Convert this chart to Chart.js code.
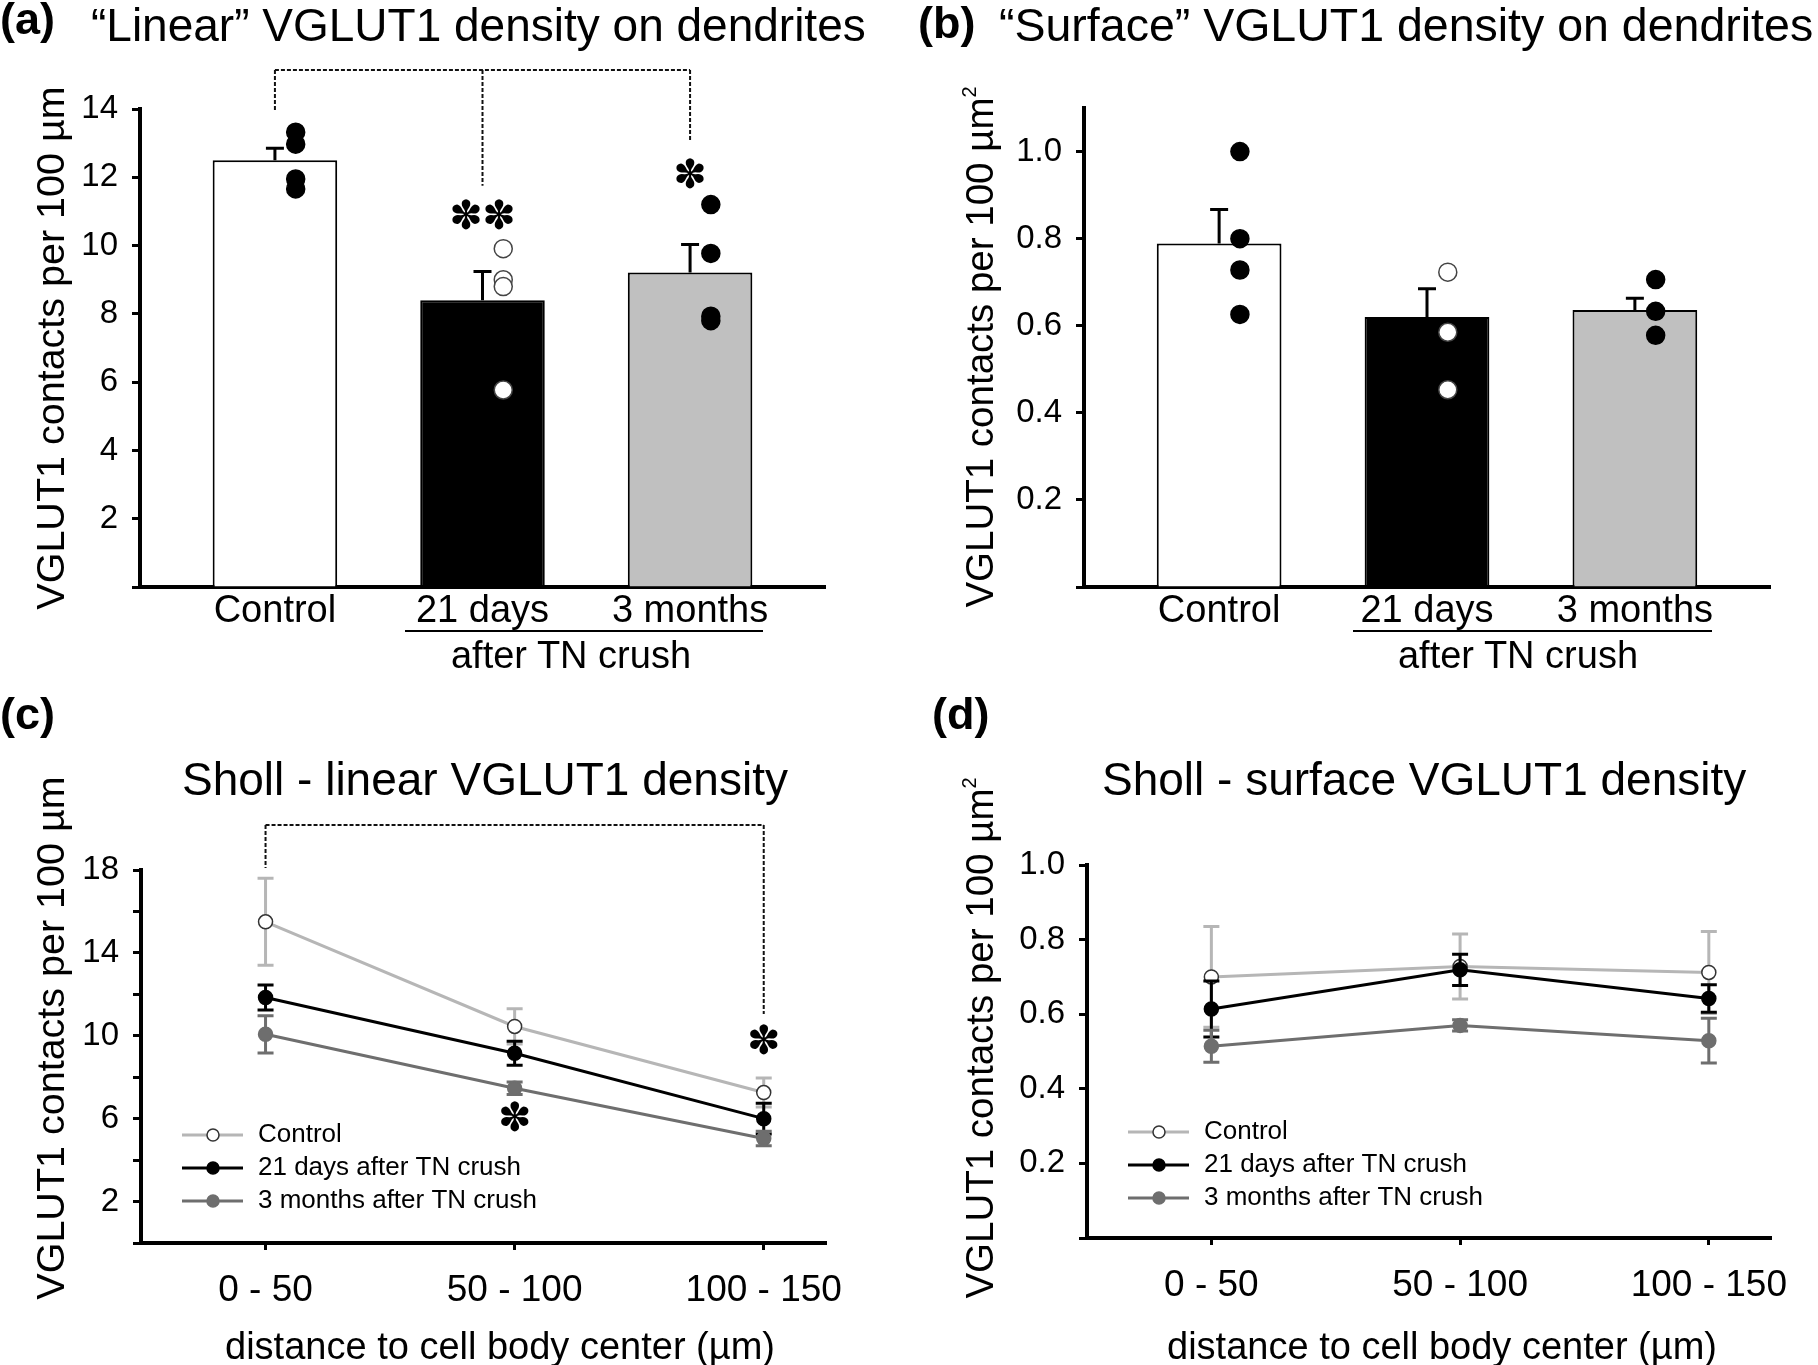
<!DOCTYPE html>
<html>
<head>
<meta charset="utf-8">
<title>VGLUT1 density</title>
<script src="https://cdn.jsdelivr.net/npm/chart.js@4.4.1/dist/chart.umd.min.js"></script>
<style>
  body { margin: 0; background: #fff; }
  #fig { position: relative; width: 1818px; height: 1365px; overflow: hidden; background: #fff; }
  canvas { position: absolute; }
  .t { position: absolute; font-family: 'Liberation Sans', Arial, sans-serif; white-space: nowrap; line-height: 1; color: #000; }
  .lbl { font-weight: bold; font-size: 45px; }
  .ttl { font-size: 46px; }
  .ax { font-size: 38px; }
  .yt { font-size: 39.5px; transform: translate(-50%, -50%) rotate(-90deg); }
  .yt2 { font-size: 38.5px; }
  .xt { transform: translateX(-50%); }
  .sq { font-size: 20px; position: relative; top: -17px; }
  .ul { position: absolute; height: 2px; background: #000; }
</style>
</head>
<body>
<div id="fig">
  <canvas id="cA" width="909" height="682" style="left:0;top:0"></canvas>
  <canvas id="cB" width="909" height="682" style="left:909px;top:0"></canvas>
  <canvas id="cC" width="909" height="683" style="left:0;top:682px"></canvas>
  <canvas id="cD" width="909" height="683" style="left:909px;top:682px"></canvas>

  <div class="t lbl" style="left:0;top:-4px">(a)</div>
  <div class="t ttl" style="left:91px;top:2px">“Linear” VGLUT1 density on dendrites</div>
  <div class="t lbl" style="left:918px;top:0">(b)</div>
  <div class="t ttl" style="left:999px;top:2px;font-size:46.5px">“Surface” VGLUT1 density on dendrites</div>
  <div class="t lbl" style="left:0;top:691px">(c)</div>
  <div class="t ttl" style="left:182px;top:756px">Sholl - linear VGLUT1 density</div>
  <div class="t lbl" style="left:932px;top:691px">(d)</div>
  <div class="t ttl" style="left:1102px;top:756px">Sholl - surface VGLUT1 density</div>

  <div class="t ax yt" style="left:51px;top:348px">VGLUT1 contacts per 100 µm</div>
  <div class="t ax yt yt2" style="left:980px;top:347px">VGLUT1 contacts per 100 µm<span class="sq">2</span></div>
  <div class="t ax yt" style="left:51px;top:1038px">VGLUT1 contacts per 100 µm</div>
  <div class="t ax yt yt2" style="left:980px;top:1038px">VGLUT1 contacts per 100 µm<span class="sq">2</span></div>

  <div class="ul" style="left:405px;top:630px;width:358px"></div>
  <div class="t ax xt" style="left:571px;top:636px">after TN crush</div>
  <div class="ul" style="left:1353px;top:630px;width:359px"></div>
  <div class="t ax xt" style="left:1518px;top:636px">after TN crush</div>

  <div class="t ax xt" style="left:500px;top:1327px">distance to cell body center (µm)</div>
  <div class="t ax xt" style="left:1442px;top:1327px">distance to cell body center (µm)</div>
</div>

<script>
// ---- data ----
const barCats = ['Control', '21 days', '3 months'];
const seriesNames = ['Control', '21 days after TN crush', '3 months after TN crush'];

const linearMean = [12.5, 8.4, 9.21];
const linearSem = [0.35, 0.84, 0.82];
const linearCtrlDots = [13.32, 12.97, 11.95, 11.66];
const linear21dDots = [9.91, 9.0, 8.8, 5.77];
const linear3mDots = [11.2, 9.77, 7.93, 7.8];
const linearYTicks = [0, 2, 4, 6, 8, 10, 12, 14];

const surfaceMean = [0.789, 0.62, 0.636];
const surfaceSem = [0.078, 0.065, 0.027];
const surfaceCtrlDots = [1.0, 0.8, 0.728, 0.626];
const surface21dDots = [0.723, 0.585, 0.453];
const surface3mDots = [0.706, 0.633, 0.578];
const surfaceYTicks = [0, 0.2, 0.4, 0.6, 0.8, 1.0];

const shollCats = ['0 - 50', '50 - 100', '100 - 150'];
const shollLinCtrl = [15.5, 10.45, 7.26];
const shollLinCtrlSem = [2.1, 0.85, 0.7];
const shollLin21d = [11.85, 9.16, 6.0];
const shollLin21dSem = [0.6, 0.58, 0.74];
const shollLin3m = [10.07, 7.47, 5.04];
const shollLin3mSem = [0.9, 0.3, 0.35];
const shollLinYTicks = [0, 2, 4, 6, 8, 10, 12, 14, 16, 18];
const shollLinYLabels = [2, 6, 10, 14, 18];

const shollSurfCtrl = [0.70, 0.728, 0.712];
const shollSurfCtrlSem = [0.135, 0.087, 0.11];
const shollSurf21d = [0.614, 0.719, 0.642];
const shollSurf21dSem = [0.075, 0.042, 0.037];
const shollSurf3m = [0.514, 0.570, 0.529];
const shollSurf3mSem = [0.043, 0.015, 0.06];
const shollSurfYTicks = [0, 0.2, 0.4, 0.6, 0.8, 1.0];

// ---- styling ----
const barFills = ['#ffffff', '#000000', '#c0c0c0'];
const lineColors = ['#b6b6b6', '#000000', '#6e6e6e'];
const markerFills = ['#ffffff', '#000000', '#6e6e6e'];
const markerEdges = ['#333333', '#000000', '#6e6e6e'];
const dotShift = 0.1;

Chart.defaults.font.family = "'Liberation Sans', Arial, sans-serif";
Chart.defaults.color = '#000';

// brackets, asterisks and legends per canvas (in data units)
const notes = {
  cA: {
    brackets: [{ xs: [0, 1, 2], y: 15.14, drops: [13.91, 11.75, 13.03] }],
    stars: [{ x: 1, y: 10.8, n: 2 }, { x: 2, y: 12.0, n: 1 }]
  },
  cB: {},
  cC: {
    brackets: [{ xs: [0, 2], y: 20.17, drops: [18.1, 11.05] }],
    stars: [{ x: 2, y: 9.6, n: 1 }, { x: 1, y: 5.9, n: 1 }],
    legend: { left: 41, bottom: 108, gap: 33 }
  },
  cD: {
    legend: { left: 41, bottom: 106, gap: 33 }
  }
};

function drawErrors(chart, index) {
  const ds = chart.data.datasets[index];
  const meta = chart.getDatasetMeta(index);
  const ys = chart.scales.y;
  const ctx = chart.ctx;
  ctx.save();
  ctx.strokeStyle = ds.errorColor;
  ctx.lineWidth = 3;
  meta.data.forEach((el, i) => {
    const v = ds.data[i].y;
    const top = ys.getPixelForValue(v + ds.errors[i]);
    const bot = ds.errorMode === 'up' ? el.y : ys.getPixelForValue(v - ds.errors[i]);
    const cap = ds.errorMode === 'up' ? 9 : 8;
    ctx.beginPath();
    ctx.moveTo(el.x, top); ctx.lineTo(el.x, bot);
    ctx.moveTo(el.x - cap, top); ctx.lineTo(el.x + cap, top);
    if (ds.errorMode === 'both') { ctx.moveTo(el.x - cap, bot); ctx.lineTo(el.x + cap, bot); }
    ctx.stroke();
  });
  ctx.restore();
}

const figNotes = {
  id: 'figNotes',
  beforeDatasetDraw(chart, args) {
    const ds = chart.data.datasets[args.index];
    if (ds.errors && ds.errorMode === 'both') drawErrors(chart, args.index);
  },
  afterDatasetDraw(chart, args) {
    const ds = chart.data.datasets[args.index];
    if (ds.errors && ds.errorMode === 'up') drawErrors(chart, args.index);
  },
  afterDraw(chart) {
    const n = notes[chart.canvas.id] || {};
    const ctx = chart.ctx, xs = chart.scales.x, ys = chart.scales.y;
    (n.brackets || []).forEach(b => {
      const yTop = ys.getPixelForValue(b.y);
      ctx.save();
      ctx.strokeStyle = '#111';
      ctx.lineWidth = 2;
      ctx.setLineDash([4, 2]);
      ctx.beginPath();
      ctx.moveTo(xs.getPixelForValue(b.xs[0]), yTop);
      ctx.lineTo(xs.getPixelForValue(b.xs[b.xs.length - 1]), yTop);
      b.xs.forEach((x, i) => {
        const px = xs.getPixelForValue(x);
        ctx.moveTo(px, yTop);
        ctx.lineTo(px, ys.getPixelForValue(b.drops[i]));
      });
      ctx.stroke();
      ctx.restore();
    });
    (n.stars || []).forEach(s => {
      ctx.save();
      ctx.font = '40px "DejaVu Sans"';
      ctx.fillStyle = '#000';
      ctx.textAlign = 'center';
      ctx.textBaseline = 'middle';
      const px = xs.getPixelForValue(s.x), py = ys.getPixelForValue(s.y);
      for (let k = 0; k < s.n; k++) {
        ctx.fillText('✽', px + (k - (s.n - 1) / 2) * 33, py);
      }
      ctx.restore();
    });
    if (n.legend) {
      const a = chart.chartArea, lg = n.legend;
      chart.data.datasets.forEach((ds, i) => {
        const x0 = a.left + lg.left, y = a.bottom - lg.bottom + i * lg.gap;
        ctx.save();
        ctx.strokeStyle = ds.borderColor;
        ctx.lineWidth = 3;
        ctx.beginPath(); ctx.moveTo(x0, y); ctx.lineTo(x0 + 61, y); ctx.stroke();
        ctx.beginPath(); ctx.arc(x0 + 31, y, 6, 0, Math.PI * 2);
        ctx.fillStyle = ds.pointBackgroundColor; ctx.fill();
        ctx.lineWidth = 1.5; ctx.strokeStyle = ds.pointBorderColor; ctx.stroke();
        ctx.fillStyle = '#000';
        ctx.font = '26px "Liberation Sans", Arial, sans-serif';
        ctx.textBaseline = 'middle';
        ctx.fillText(ds.label, x0 + 76, y);
        ctx.restore();
      });
    }
  }
};

function yAxis(ticks, max, width, fmt) {
  return {
    min: 0, max: max,
    afterFit: s => { s.width = width; },
    afterBuildTicks: s => { s.ticks = ticks.map(v => ({ value: v })); },
    ticks: { padding: 14, font: { size: 33 }, color: '#000', autoSkip: false, callback: fmt },
    grid: { drawOnChartArea: false, tickLength: 8, tickWidth: 3, tickColor: '#000' },
    border: { width: 4, color: '#000' }
  };
}

function xAxis(cats, min, max, height, tickLen, pad, size) {
  return {
    type: 'linear', min: min, max: max, offset: false,
    afterFit: s => { s.height = height; },
    afterBuildTicks: s => { s.ticks = cats.map((c, i) => ({ value: i })); },
    ticks: { padding: pad, font: { size: size }, color: '#000', maxRotation: 0, autoSkip: false,
             callback: v => cats[v] ?? '' },
    grid: { drawOnChartArea: false, drawTicks: tickLen > 0, tickLength: tickLen, tickWidth: 3, tickColor: '#000' },
    border: { width: 4, color: '#000' }
  };
}

function dots(values, i, fill, edge) {
  return {
    type: 'scatter', order: 1,
    data: values.map(v => ({ x: i + dotShift, y: v })),
    pointRadius: 9, pointBackgroundColor: fill, pointBorderColor: edge, pointBorderWidth: 1.5
  };
}

function barChart(id, means, sem, ctrlDots, d21Dots, m3Dots, yTicks, yMax, fmt, pad) {
  return new Chart(document.getElementById(id), {
    type: 'bar',
    data: {
      datasets: [
        {
          type: 'bar', order: 2,
          data: means.map((v, i) => ({ x: i, y: v })),
          backgroundColor: barFills, borderColor: '#000', borderWidth: 2,
          barPercentage: 0.6, categoryPercentage: 1,
          errors: sem, errorMode: 'up', errorColor: '#000'
        },
        dots(ctrlDots, 0, '#000', '#000'),
        dots(d21Dots, 1, '#fff', '#444'),
        dots(m3Dots, 2, '#000', '#000')
      ]
    },
    options: {
      responsive: false, animation: false, events: [],
      layout: { padding: pad },
      scales: {
        x: xAxis(barCats, -0.65, 2.65, 95, 0, 2, 38),
        y: yAxis(yTicks, yMax, pad.yWidth, fmt)
      },
      plugins: { legend: { display: false }, tooltip: { enabled: false } }
    },
    plugins: [figNotes]
  });
}

function lineSet(label, values, sem, k) {
  return {
    label: label, order: 3 - k,
    data: values.map((v, i) => ({ x: i, y: v })),
    borderColor: lineColors[k], borderWidth: 3, tension: 0, fill: false,
    pointRadius: 7, pointBackgroundColor: markerFills[k], pointBorderColor: markerEdges[k], pointBorderWidth: 1.5,
    errors: sem, errorMode: 'both', errorColor: lineColors[k]
  };
}

function lineChart(id, sets, yTicks, yMax, fmt, pad) {
  return new Chart(document.getElementById(id), {
    type: 'line',
    data: { datasets: sets },
    options: {
      responsive: false, animation: false, events: [],
      layout: { padding: pad },
      scales: {
        x: xAxis(shollCats, -0.5, 2.25, pad.xHeight, 7, 19, 37),
        y: yAxis(yTicks, yMax, pad.yWidth, fmt)
      },
      plugins: { legend: { display: false }, tooltip: { enabled: false } }
    },
    plugins: [figNotes]
  });
}

const oneDecimal = v => (v === 0 ? '' : v.toFixed(1));

barChart('cA', linearMean, linearSem, linearCtrlDots, linear21dDots, linear3mDots,
  linearYTicks, 14, v => (v === 0 ? '' : String(v)),
  { left: 0, top: 109, right: 84, bottom: 0, yWidth: 140 });

barChart('cB', surfaceMean, surfaceSem, surfaceCtrlDots, surface21dDots, surface3mDots,
  surfaceYTicks, 1.1, oneDecimal,
  { left: 0, top: 108, right: 48, bottom: 0, yWidth: 175 });

lineChart('cC', [
  lineSet(seriesNames[0], shollLinCtrl, shollLinCtrlSem, 0),
  lineSet(seriesNames[1], shollLin21d, shollLin21dSem, 1),
  lineSet(seriesNames[2], shollLin3m, shollLin3mSem, 2)
], shollLinYTicks, 18, v => (shollLinYLabels.includes(v) ? String(v) : ''),
  { left: 0, top: 188, right: 83, bottom: 0, yWidth: 141, xHeight: 122 });

lineChart('cD', [
  lineSet(seriesNames[0], shollSurfCtrl, shollSurfCtrlSem, 0),
  lineSet(seriesNames[1], shollSurf21d, shollSurf21dSem, 1),
  lineSet(seriesNames[2], shollSurf3m, shollSurf3mSem, 2)
], shollSurfYTicks, 1.0, oneDecimal,
  { left: 0, top: 183, right: 47, bottom: 0, yWidth: 178, xHeight: 127 });
</script>
</body>
</html>
